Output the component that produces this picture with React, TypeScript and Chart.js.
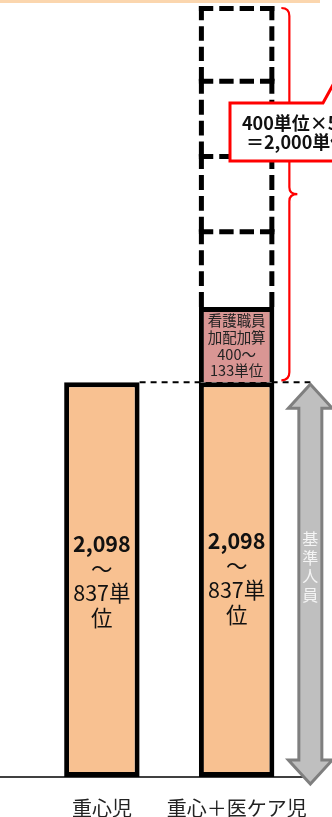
import React, { useEffect, useRef } from "react";
import { Chart, registerables } from "chart.js";

Chart.register(...registerables);

const categories = ["重心児", "重心＋医ケア児"];
const baseValues = [2098, 2098];
const nursingValues = [null, 400];
const extraValues = [400, 400, 400, 400];
const baseLabelLines = ["2,098", "～", "837単", "位"];
const nursingLabelLines = ["看護職員", "加配加算", "400～", "133単位"];
const calloutLines = ["400単位×5", "＝2,000単位"];
const arrowLabel = "基準人員";
const yMax = 4130;

const FONT = '"Noto Sans CJK JP", "Noto Sans", sans-serif';

function dashedEdge(ctx: any, x0: number, y0: number, x1: number, y1: number) {
  const L = Math.hypot(x1 - x0, y1 - y0);
  const g = 6;
  const n = Math.max(1, Math.round((L + g) / (14 + g)));
  const d = (L - (n - 1) * g) / n;
  ctx.setLineDash([d, g]);
  ctx.beginPath();
  ctx.moveTo(x0, y0);
  ctx.lineTo(x1, y1);
  ctx.stroke();
}

const decorPlugin = {
  id: "decor",
  beforeDatasetsDraw(chart: any) {
    const { ctx } = chart;
    const y = chart.scales.y;
    const meta0 = chart.getDatasetMeta(0);
    const left = meta0.data[0];
    const right = meta0.data[1];
    ctx.save();
    ctx.fillStyle = "#FBD6AE";
    ctx.fillRect(0, 0, 320, 3);
    ctx.strokeStyle = "#000";
    ctx.lineWidth = 1.5;
    ctx.beginPath();
    ctx.moveTo(0, y.getPixelForValue(0));
    ctx.lineTo(right.x + right.width / 2 + 34, y.getPixelForValue(0));
    ctx.stroke();
    const yl = y.getPixelForValue(baseValues[0]);
    ctx.setLineDash([6, 5]);
    ctx.lineWidth = 2;
    ctx.beginPath();
    ctx.moveTo(left.x + left.width / 2, yl);
    ctx.lineTo(right.x + right.width / 2 + 36, yl);
    ctx.stroke();
    ctx.restore();
  },
  afterDatasetsDraw(chart: any) {
    const { ctx } = chart;
    const y = chart.scales.y;
    ctx.save();
    // dashed boxes
    const n = chart.data.datasets.length;
    ctx.strokeStyle = "#000";
    ctx.lineWidth = 5;
    ctx.lineCap = "butt";
    for (let d = 2; d < n; d++) {
      const el = chart.getDatasetMeta(d).data[1];
      const x0 = el.x - el.width / 2 + 2.5;
      const x1 = el.x + el.width / 2 - 2.5;
      const topPx = Math.min(el.y, el.base);
      const botPx = Math.max(el.y, el.base);
      const top = d === n - 1 ? topPx + 2.5 : topPx;
      dashedEdge(ctx, x0 - 2.5, top, x1 + 2.5, top);
      dashedEdge(ctx, x0, top - 2.5, x0, botPx);
      dashedEdge(ctx, x1, top - 2.5, x1, botPx);
    }
    ctx.setLineDash([]);
    // bar texts
    const meta0 = chart.getDatasetMeta(0);
    meta0.data.forEach((el: any, idx: number) => {
      const cy = (el.y + el.base) / 2 + (idx === 0 ? 1 : -2);
      const lh = 24.5;
      ctx.textAlign = "center";
      ctx.textBaseline = "middle";
      ctx.fillStyle = "#111";
      baseLabelLines.forEach((t, i) => {
        ctx.font = (i === 0 ? "bold " : "") + "21.5px " + FONT;
        ctx.fillText(t, el.x, cy + (i - 1.5) * lh);
      });
    });
    const pel = chart.getDatasetMeta(1).data[1];
    {
      const cy = (pel.y + pel.base) / 2 + 1;
      const lh = 16.8;
      ctx.font = "14.5px " + FONT;
      ctx.fillStyle = "#222";
      ctx.textAlign = "center";
      ctx.textBaseline = "middle";
      nursingLabelLines.forEach((t, i) => {
        ctx.fillText(t, pel.x, cy + (i - 1.5) * lh);
      });
    }
    // red bracket
    const lastEl = chart.getDatasetMeta(n - 1).data[1];
    const bx = pel.x + pel.width / 2 + 15;
    const bTop = lastEl.y + 2;
    const bBot = y.getPixelForValue(baseValues[1]) - 2;
    const bMid = (bTop + bBot) / 2;
    ctx.strokeStyle = "#FF0000";
    ctx.lineWidth = 2.2;
    ctx.beginPath();
    ctx.moveTo(bx - 8, bTop);
    ctx.quadraticCurveTo(bx, bTop, bx, bTop + 8);
    ctx.lineTo(bx, bMid - 7);
    ctx.quadraticCurveTo(bx, bMid, bx + 8, bMid);
    ctx.quadraticCurveTo(bx, bMid, bx, bMid + 7);
    ctx.lineTo(bx, bBot - 8);
    ctx.quadraticCurveTo(bx, bBot, bx - 8, bBot);
    ctx.stroke();
    // callout
    const cTop = 103;
    const cBot = 161;
    const cLeft = 230;
    ctx.fillStyle = "#fff";
    ctx.lineWidth = 3;
    ctx.beginPath();
    ctx.moveTo(cLeft, cTop);
    ctx.lineTo(323, cTop);
    ctx.lineTo(340, 72);
    ctx.lineTo(345, cTop);
    ctx.lineTo(400, cTop);
    ctx.lineTo(400, cBot);
    ctx.lineTo(cLeft, cBot);
    ctx.closePath();
    ctx.fill();
    ctx.stroke();
    ctx.fillStyle = "#111";
    ctx.font = "bold 18px " + FONT;
    ctx.textAlign = "left";
    ctx.textBaseline = "middle";
    ctx.fillText(calloutLines[0], 242, 123);
    ctx.fillText(calloutLines[1], 246, 142);
    // gray double arrow
    const ax = pel.x + pel.width / 2 + 36;
    const aTop = y.getPixelForValue(baseValues[1]) + 2;
    const aBot = y.getPixelForValue(0) + 7;
    const hw = 22;
    const hh = 24;
    const sw = 11.5;
    ctx.beginPath();
    ctx.moveTo(ax, aTop);
    ctx.lineTo(ax + hw, aTop + hh);
    ctx.lineTo(ax + sw, aTop + hh);
    ctx.lineTo(ax + sw, aBot - hh);
    ctx.lineTo(ax + hw, aBot - hh);
    ctx.lineTo(ax, aBot);
    ctx.lineTo(ax - hw, aBot - hh);
    ctx.lineTo(ax - sw, aBot - hh);
    ctx.lineTo(ax - sw, aTop + hh);
    ctx.lineTo(ax - hw, aTop + hh);
    ctx.closePath();
    ctx.fillStyle = "#BFBFBF";
    ctx.fill();
    ctx.strokeStyle = "#7F7F7F";
    ctx.lineWidth = 3;
    ctx.lineJoin = "miter";
    ctx.stroke();
    ctx.fillStyle = "#F4F4F4";
    ctx.font = "16px " + FONT;
    ctx.textAlign = "center";
    ctx.textBaseline = "middle";
    Array.from(arrowLabel).forEach((c, i) => {
      ctx.fillText(c, ax, 539 + i * 18.5);
    });
    ctx.restore();
  },
};

export default function App() {
  const ref = useRef<HTMLCanvasElement | null>(null);
  useEffect(() => {
    document.body.style.margin = "0";
    const datasets: any[] = [
      {
        data: baseValues,
        backgroundColor: "#F8C191",
        borderColor: "#000",
        borderWidth: 5,
        borderSkipped: false,
      },
      {
        data: nursingValues,
        backgroundColor: "#D99694",
        borderColor: "#000",
        borderWidth: 5,
        borderSkipped: "bottom",
      },
      ...extraValues.map((v) => ({
        data: [null, v],
        backgroundColor: "rgba(0,0,0,0)",
        borderWidth: 0,
      })),
    ];
    const chart = new Chart(ref.current as HTMLCanvasElement, {
      type: "bar",
      data: { labels: categories, datasets },
      options: {
        animation: false,
        responsive: false,
        maintainAspectRatio: false,
        layout: { padding: { left: 34.5, right: 25.5, top: 0, bottom: 0 } },
        datasets: { bar: { barPercentage: 0.56, categoryPercentage: 1 } },
        plugins: { legend: { display: false }, tooltip: { enabled: false } },
        scales: {
          x: {
            stacked: true,
            grid: { display: false, drawTicks: false },
            border: { display: false },
            ticks: {
              color: "#222",
              font: { size: 20, family: FONT },
              padding: 19,
              maxRotation: 0,
              autoSkip: false,
            },
            afterFit: (s: any) => {
              s.height = 40;
            },
          },
          y: {
            stacked: true,
            display: false,
            min: 0,
            max: yMax,
          },
        },
      } as any,
      plugins: [decorPlugin],
    });
    return () => chart.destroy();
  }, []);
  return (
    <div style={{ width: 332, height: 817, background: "#fff" }}>
      <canvas ref={ref} width={332} height={817} style={{ display: "block" }} />
    </div>
  );
}
